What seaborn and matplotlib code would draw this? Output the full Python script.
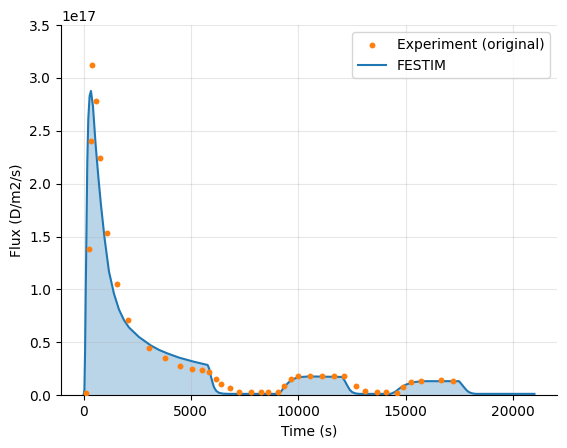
import matplotlib
matplotlib.use("Agg")
import matplotlib.pyplot as plt
import seaborn as sns
import pandas as pd

# experimental desorption flux (D/m2/s, in units of 1e17)
t_exp = [126, 237, 330, 405, 592, 778, 1104, 1542, 2082, 3046, 3805, 4504,
         5063, 5529, 5841, 6153, 6414, 6805, 7252, 7783, 8277, 8603, 9055,
         9334, 9646, 10000, 10531, 11119, 11663, 12143, 12673, 13120, 13680,
         14099, 14612, 14877, 15249, 15715, 16661, 17191]
flux_exp = [0.022, 1.38, 2.40, 3.127, 2.785, 2.244, 1.532, 1.047, 0.706, 0.445,
            0.354, 0.278, 0.25, 0.234, 0.22, 0.155, 0.107, 0.069, 0.034, 0.025,
            0.025, 0.025, 0.025, 0.091, 0.148, 0.177, 0.177, 0.177, 0.177,
            0.177, 0.088, 0.043, 0.031, 0.025, 0.018, 0.075, 0.126, 0.136,
            0.145, 0.136]

# FESTIM simulation
t_sim = [0, 40, 70, 100, 127, 174, 220, 282, 345, 438, 562, 686, 810, 981,
         1183, 1416, 1649, 1882, 2115, 2580, 3125, 3512, 3900, 4443, 5100,
         5780, 5850, 5920, 6000, 6074, 6180, 6306, 6500, 6772, 7500, 9000,
         9101, 9220, 9334, 9450, 9567, 9680, 9800, 10032, 10498, 12049,
         12150, 12282, 12400, 12515, 12650, 12827, 13500, 14300, 14500,
         14690, 14850, 15000, 15200, 15389, 15650, 15932, 17485, 17600,
         17718, 17830, 17951, 18100, 18262, 21000]
flux_sim = [0, 0.05, 0.4, 0.95, 1.40, 2.2, 2.61, 2.83, 2.877, 2.734, 2.37,
            2.07, 1.80, 1.48, 1.17, 0.96, 0.81, 0.71, 0.64, 0.55, 0.471,
            0.428, 0.395, 0.355, 0.318, 0.285, 0.25, 0.186, 0.125, 0.075,
            0.04, 0.022, 0.014, 0.012, 0.012, 0.012, 0.015, 0.04, 0.075, 0.1,
            0.123, 0.142, 0.155, 0.17, 0.177, 0.172, 0.14, 0.091, 0.05, 0.028,
            0.017, 0.012, 0.012, 0.012, 0.03, 0.06, 0.082, 0.098, 0.113,
            0.123, 0.129, 0.132, 0.132, 0.105, 0.075, 0.048, 0.028, 0.017,
            0.012, 0.012]

scale = 1e17
df_exp = pd.DataFrame({"t": t_exp, "flux": [v * scale for v in flux_exp]})
df_sim = pd.DataFrame({"t": t_sim, "flux": [v * scale for v in flux_sim]})

fig = plt.figure(figsize=(5.67, 4.48), dpi=100)
ax = fig.add_axes([0.1076, 0.118, 0.8748, 0.826])

sns.scatterplot(data=df_exp, x="t", y="flux", color="tab:orange", s=18,
                linewidth=0, label="Experiment (original)", zorder=3, ax=ax)
sns.lineplot(data=df_sim, x="t", y="flux", color="tab:blue", lw=1.5,
             label="FESTIM", ax=ax)
ax.fill_between(df_sim["t"], df_sim["flux"], color="tab:blue", alpha=0.3, lw=0)

ax.set_ylim(0, 3.5e17)
ax.set_xlabel("Time (s)")
ax.set_ylabel("Flux (D/m2/s)")
ax.grid(alpha=0.3)
ax.legend(loc="upper right")
sns.despine(ax=ax)

fig.savefig("out.png", dpi=100)
